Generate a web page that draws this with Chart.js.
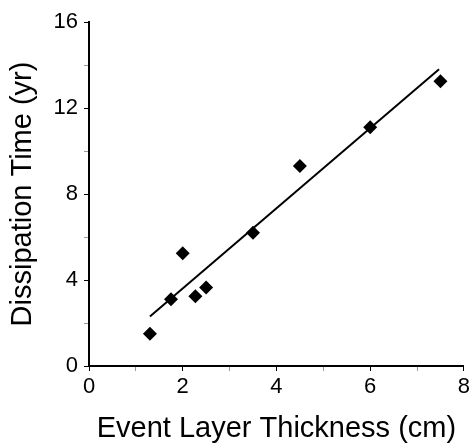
<!DOCTYPE html>
<html>
<head>
<meta charset="utf-8">
<script src="https://cdn.jsdelivr.net/npm/chart.js@4"></script>
<style>
  html, body { margin: 0; padding: 0; background: #fff; }
  #wrap { width: 473px; height: 448px; }
</style>
</head>
<body>
<div id="wrap"><canvas id="myChart" width="473" height="448"></canvas></div>
<script>
// measured points
let thickness = [1.3, 1.75, 2.0, 2.27, 2.5, 3.5, 4.5, 6.0, 7.5];
let dissTime = [1.5, 3.1, 5.25, 3.25, 3.65, 6.2, 9.3, 11.1, 13.25];

// regression line ends
let fitX = [1.3, 7.47];
let fitY = [2.3, 13.8];

let xTicks = [0, 2, 4, 6, 8];
let yTicks = [0, 4, 8, 12, 16];

function toXY(xs, ys) {
  let pts = [];
  for (let i = 0; i < xs.length; i += 1) {
    pts.push({ x: xs[i], y: ys[i] });
  }
  return pts;
}

const FONT = "'Liberation Sans', Arial, Helvetica, sans-serif";

const ctx = document.getElementById("myChart").getContext("2d");
const myChart = new Chart(ctx, {
  type: "scatter",
  data: {
    datasets: [
      {
        label: "fit",
        type: "line",
        data: toXY(fitX, fitY),
        borderColor: "#000",
        borderWidth: 2,
        pointRadius: 0,
        fill: false,
      },
      {
        label: "data",
        data: toXY(thickness, dissTime),
        pointStyle: "rectRot",
        pointRadius: 7,
        pointBackgroundColor: "#000",
        pointBorderWidth: 0,
      },
    ],
  },
  options: {
    responsive: false,
    animation: false,
    layout: { padding: { top: 22, right: 7, left: 0, bottom: 0 } },
    plugins: { legend: { display: false }, tooltip: { enabled: false } },
    scales: {
      x: {
        type: "linear",
        min: 0,
        max: 8,
        afterFit: function (s) { s.height = 82; },
        ticks: {
          stepSize: 1,
          color: "#000",
          padding: 3,
          maxRotation: 0,
          font: { family: FONT, size: 22 },
          callback: function (v) { return xTicks.includes(v) ? String(v) : ""; },
        },
        grid: {
          drawOnChartArea: false,
          tickLength: 5,
          tickColor: function (c) { return xTicks.includes(c.tick.value) ? "#000" : "#999"; },
        },
        border: { display: true, color: "#000", width: 2 },
        title: {
          display: true,
          text: "Event Layer Thickness (cm)",
          color: "#000",
          font: { family: FONT, size: 29, lineHeight: 1 },
          padding: { top: 0, bottom: 5 },
        },
      },
      y: {
        type: "linear",
        min: 0,
        max: 16,
        afterFit: function (s) { s.width = 89; },
        ticks: {
          stepSize: 2,
          color: "#000",
          padding: 6,
          font: { family: FONT, size: 22 },
          callback: function (v) { return yTicks.includes(v) ? String(v) : ""; },
        },
        grid: {
          drawOnChartArea: false,
          tickLength: 5,
          tickColor: function (c) { return yTicks.includes(c.tick.value) ? "#000" : "#999"; },
        },
        border: { display: true, color: "#000", width: 2 },
        title: {
          display: true,
          text: "Dissipation Time (yr)",
          color: "#000",
          font: { family: FONT, size: 29, lineHeight: 1 },
          padding: { top: 8, bottom: 0 },
        },
      },
    },
  },
});
</script>
</body>
</html>
